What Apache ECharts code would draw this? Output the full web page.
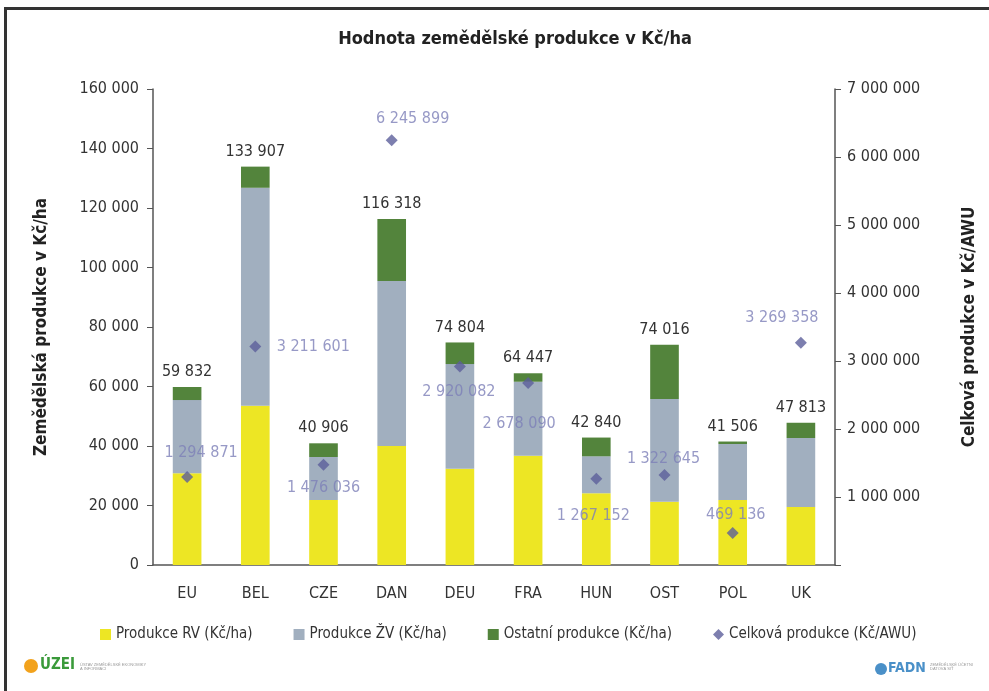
<!DOCTYPE html>
<html>
<head>
<meta charset="utf-8">
<script src="https://cdn.jsdelivr.net/npm/echarts@6/dist/echarts.min.js"></script>
<style>
  html, body { margin: 0; padding: 0; background: #fff; overflow: hidden; }
  #frame { position: absolute; left: 4px; top: 7px; width: 1010px; height: 720px;
           border-left: 3px solid #333; border-top: 3px solid #333; }
  #main { position: absolute; left: 0; top: 0; width: 989px; height: 691px; }
</style>
</head>
<body>
<div id="frame"></div>
<div id="main"></div>
<script>
// data
var countries = ['EU', 'BEL', 'CZE', 'DAN', 'DEU', 'FRA', 'HUN', 'OST', 'POL', 'UK'];
var prodRV    = [30800, 53540, 21850, 40000, 32370, 36740, 24100, 21280, 21850, 19500];
var prodZV    = [24650, 73260, 14450, 55450, 35180, 24860, 12430, 34520, 18820, 23180];
var prodOther = [4382, 7107, 4606, 20868, 7254, 2847, 6310, 18216, 836, 5133];
var totals    = [59832, 133907, 40906, 116318, 74804, 64447, 42840, 74016, 41506, 47813];
var prodAWU   = [1294871, 3211601, 1476036, 6245899, 2920082, 2678090, 1267152, 1322645, 469136, 3269358];

// label offsets for the AWU points (styling)
var awuLabelOffset = [[14, -24], [58, 0], [0, 23], [21, -21], [-1, 25], [-9, 41], [-3, 37], [-1, -16], [3, -18], [-19, -25]];

var font = '"Liberation Sans Narrow", "DejaVu Sans Condensed", "Open Sans", sans-serif';

function fmt(v) {
    return String(v).replace(/\B(?=(\d{3})+(?!\d))/g, ' ');
}

var awuData = [];
for (var i in prodAWU) {
    awuData.push({
        value: prodAWU[i],
        label: {offset: awuLabelOffset[i]}
    });
}

var chart = echarts.init(document.getElementById('main'));

option = {
    animation: false,
    textStyle: {fontFamily: font},
    title: {
        text: 'Hodnota zemědělské produkce v Kč/ha',
        left: 510,
        top: 25,
        textAlign: 'center',
        textStyle: {fontFamily: font, fontSize: 18, fontWeight: 'bold', color: '#222'}
    },
    legend: {
        bottom: 44,
        left: 95,
        itemWidth: 11,
        itemHeight: 11,
        itemGap: 41,
        textStyle: {fontFamily: font, fontSize: 15, color: '#333'},
        data: [
            {name: 'Produkce RV (Kč/ha)', icon: 'rect'},
            {name: 'Produkce ŽV (Kč/ha)', icon: 'rect'},
            {name: 'Ostatní produkce (Kč/ha)', icon: 'rect'},
            {name: 'Celková produkce (Kč/AWU)', icon: 'diamond'}
        ]
    },
    grid: {left: 153, right: 154, top: 89, bottom: 126},
    xAxis: {
        type: 'category',
        data: countries,
        axisLine: {lineStyle: {color: '#555', width: 1.5}},
        axisTick: {length: 6, lineStyle: {color: '#555'}},
        axisLabel: {fontFamily: font, fontSize: 16, color: '#333', margin: 21}
    },
    yAxis: [
        {
            type: 'value',
            min: 0,
            max: 160000,
            interval: 20000,
            name: 'Zemědělská produkce v Kč/ha',
            nameLocation: 'middle',
            nameGap: 103,
            nameTextStyle: {fontFamily: font, fontSize: 17, fontWeight: 'bold', color: '#222'},
            axisLine: {show: true, lineStyle: {color: '#555', width: 1.5}},
            axisTick: {show: true, length: 6, lineStyle: {color: '#555'}},
            splitLine: {show: false},
            axisLabel: {fontFamily: font, fontSize: 16, color: '#333', margin: 14, formatter: fmt}
        },
        {
            type: 'value',
            min: 0,
            max: 7000000,
            interval: 1000000,
            name: 'Celková produkce v Kč/AWU',
            nameLocation: 'middle',
            nameGap: 126,
            nameRotate: 90,
            nameTextStyle: {fontFamily: font, fontSize: 17, fontWeight: 'bold', color: '#222'},
            axisLine: {show: true, lineStyle: {color: '#555', width: 1.5}},
            axisTick: {show: true, length: 6, lineStyle: {color: '#555'}},
            splitLine: {show: false},
            axisLabel: {
                fontFamily: font, fontSize: 16, color: '#333', margin: 12,
                formatter: function (v) { return v === 0 ? '' : fmt(v); }
            }
        }
    ],
    series: [
        {
            name: 'Produkce RV (Kč/ha)',
            type: 'bar',
            stack: 'p',
            barWidth: '42%',
            itemStyle: {color: '#ede624'},
            data: prodRV
        },
        {
            name: 'Produkce ŽV (Kč/ha)',
            type: 'bar',
            stack: 'p',
            itemStyle: {color: '#a1afbf'},
            data: prodZV
        },
        {
            name: 'Ostatní produkce (Kč/ha)',
            type: 'bar',
            stack: 'p',
            itemStyle: {color: '#53843c'},
            label: {
                show: true,
                position: 'top',
                distance: 7,
                fontFamily: font,
                fontSize: 16,
                color: '#333',
                formatter: function (p) { return fmt(totals[p.dataIndex]); }
            },
            data: prodOther
        },
        {
            name: 'Celková produkce (Kč/AWU)',
            type: 'scatter',
            yAxisIndex: 1,
            symbol: 'diamond',
            symbolSize: 12,
            itemStyle: {color: '#5d5f9b'},
            label: {
                show: true,
                position: 'inside',
                fontFamily: font,
                fontSize: 16,
                color: '#7d80b8',
                formatter: function (p) { return fmt(p.value); }
            },
            z: 5,
            data: awuData
        }
    ],
    graphic: [
        {type: 'circle', left: 24, top: 659, shape: {r: 7}, style: {fill: '#f2a21c'}},
        {type: 'text', left: 40, top: 658, style: {text: 'ÚZEI', font: 'bold 15px ' + font, fill: '#3a9a3a'}},
        {type: 'text', left: 80, top: 663, style: {text: 'ÚSTAV ZEMĚDĚLSKÉ EKONOMIKY\nA INFORMACÍ', font: '4px sans-serif', fill: '#999'}},
        {type: 'circle', left: 875, top: 663, shape: {r: 6}, style: {fill: '#4a90c8'}},
        {type: 'text', left: 888, top: 661, style: {text: 'FADN', font: 'bold 14px ' + font, fill: '#4a90c8'}},
        {type: 'text', left: 930, top: 663, style: {text: 'ZEMĚDĚLSKÉ ÚČETNÍ\nDATOVÁ SÍŤ', font: '4px sans-serif', fill: '#999'}}
    ]
};

chart.setOption(option, true);
</script>
</body>
</html>
